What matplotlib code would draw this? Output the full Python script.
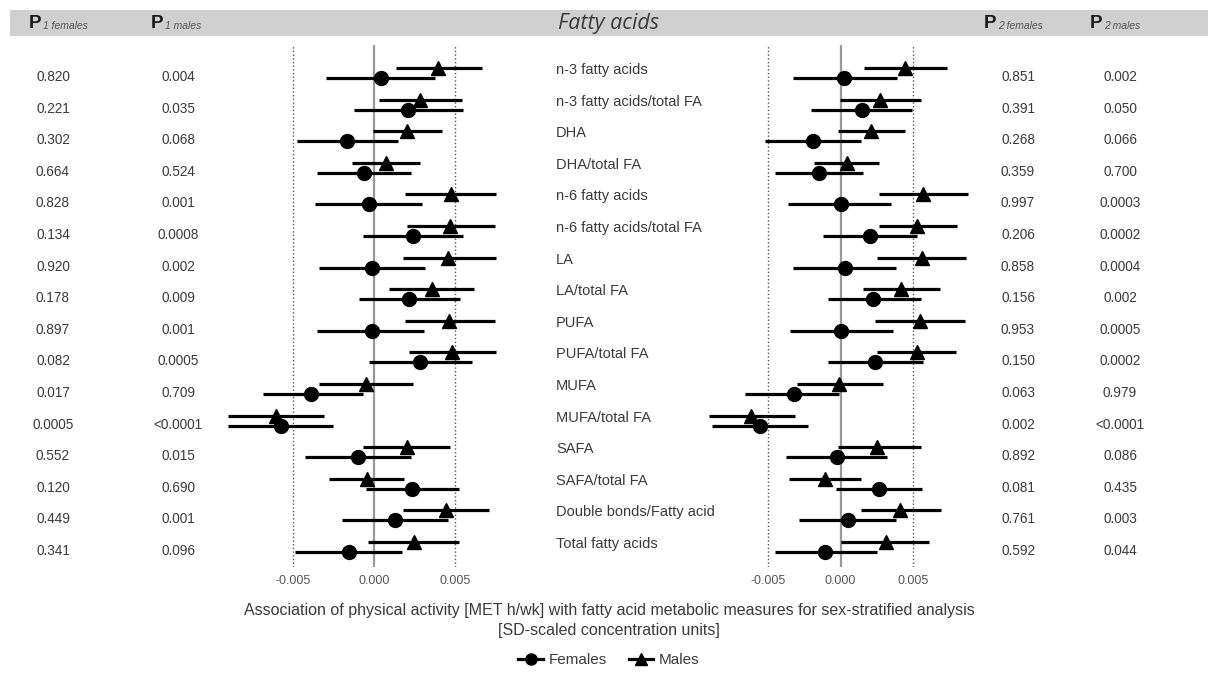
import numpy as np
import matplotlib
matplotlib.use('Agg')
import matplotlib.pyplot as plt
from matplotlib.lines import Line2D
from matplotlib.patches import Rectangle
import matplotlib.transforms as mtransforms

# === DATA (estimates and CIs in units of 1e-3) ===
labels = ["n-3 fatty acids", "n-3 fatty acids/total FA", "DHA", "DHA/total FA",
          "n-6 fatty acids", "n-6 fatty acids/total FA", "LA", "LA/total FA",
          "PUFA", "PUFA/total FA", "MUFA", "MUFA/total FA", "SAFA",
          "SAFA/total FA", "Double bonds/Fatty acid", "Total fatty acids"]

p1_females = ["0.820", "0.221", "0.302", "0.664", "0.828", "0.134", "0.920", "0.178",
              "0.897", "0.082", "0.017", "0.0005", "0.552", "0.120", "0.449", "0.341"]
p1_males = ["0.004", "0.035", "0.068", "0.524", "0.001", "0.0008", "0.002", "0.009",
            "0.001", "0.0005", "0.709", "<0.0001", "0.015", "0.690", "0.001", "0.096"]
p2_females = ["0.851", "0.391", "0.268", "0.359", "0.997", "0.206", "0.858", "0.156",
              "0.953", "0.150", "0.063", "0.002", "0.892", "0.081", "0.761", "0.592"]
p2_males = ["0.002", "0.050", "0.066", "0.700", "0.0003", "0.0002", "0.0004", "0.002",
            "0.0005", "0.0002", "0.979", "<0.0001", "0.086", "0.435", "0.003", "0.044"]

# left panel (model 1)
m1_f_est = [0.43, 2.11, -1.66, -0.61, -0.33, 2.38, -0.12, 2.15, -0.14, 2.85, -3.89, -5.74, -0.96, 2.36, 1.29, -1.56]
m1_f_lo = [-2.95, -1.21, -4.72, -3.50, -3.61, -0.66, -3.38, -0.92, -3.50, -0.31, -6.81, -9.00, -4.24, -0.51, -1.95, -4.86]
m1_f_hi = [3.79, 5.49, 1.50, 2.28, 2.99, 5.49, 3.16, 5.29, 3.08, 6.04, -0.70, -2.50, 2.26, 5.25, 4.53, 1.74]
m1_m_est = [3.96, 2.83, 2.05, 0.74, 4.76, 4.71, 4.59, 3.55, 4.63, 4.82, -0.51, -6.03, 2.05, -0.45, 4.41, 2.44]
m1_m_lo = [1.33, 0.31, -0.04, -1.37, 1.93, 2.05, 1.80, 0.94, 1.93, 2.17, -3.36, -9.00, -0.70, -2.79, 1.76, -0.35]
m1_m_hi = [6.66, 5.45, 4.18, 2.83, 7.54, 7.48, 7.50, 6.17, 7.48, 7.50, 2.38, -3.08, 4.67, 1.85, 7.07, 5.23]

# right panel (model 2)
m2_f_est = [0.25, 1.45, -1.91, -1.50, 0.00, 2.02, 0.32, 2.25, 0.05, 2.39, -3.22, -5.57, -0.28, 2.62, 0.48, -1.06]
m2_f_lo = [-3.31, -2.05, -5.22, -4.51, -3.61, -1.20, -3.27, -0.90, -3.50, -0.90, -6.58, -8.90, -3.77, -0.35, -2.90, -4.51]
m2_f_hi = [3.86, 4.92, 1.38, 1.56, 3.49, 5.29, 3.81, 5.54, 3.63, 5.70, -0.09, -2.23, 3.17, 5.59, 3.81, 2.52]
m2_m_est = [4.43, 2.71, 2.09, 0.41, 5.70, 5.29, 5.63, 4.14, 5.47, 5.24, -0.09, -6.21, 2.53, -1.10, 4.11, 3.12]
m2_m_lo = [1.61, -0.05, -0.21, -1.84, 2.62, 2.62, 2.48, 1.52, 2.39, 2.53, -3.03, -9.06, -0.16, -3.54, 1.38, 0.00]
m2_m_hi = [7.35, 5.56, 4.43, 2.62, 8.78, 8.04, 8.62, 6.85, 8.59, 7.93, 2.90, -3.17, 5.52, 1.42, 6.94, 6.11]

header_cols = [("1 females", 29), ("1 males", 151), ("2 females", 984), ("2 males", 1090)]

# === STYLE ===
plt.rcParams['font.family'] = ['Liberation Sans', 'DejaVu Sans']
TXT = '#3a3a3a'
W, H = 1208, 684

fig = plt.figure(figsize=(W / 100, H / 100), dpi=100)

# header band
fig.patches.append(Rectangle((10 / W, 1 - 36 / H), 1 - 10 / W, 26 / H,
                             transform=fig.transFigure, facecolor='#d0d0d0',
                             edgecolor='none', zorder=0))

n = len(labels)
ypos = -np.arange(n)
off = 0.16
ax_bottom, ax_top = 1 - 567 / H, 1 - 45 / H
ylim = (-(n - 1) - 20 / 31.57, 28 / 31.57)


def panel(left_px, right_px, xlim, f_est, f_lo, f_hi, m_est, m_lo, m_hi):
    ax = fig.add_axes([left_px / W, ax_bottom, (right_px - left_px) / W, ax_top - ax_bottom])
    ax.set_xlim(xlim)
    ax.set_ylim(ylim)
    ax.axvline(0, color='#999999', lw=1.6, zorder=1)
    for v in (-0.005, 0.005):
        ax.axvline(v, color='#555555', lw=1.0, ls=':', zorder=1)
    s = 1e-3
    ax.hlines(ypos + off, np.array(m_lo) * s, np.array(m_hi) * s, color='black', lw=2.3, zorder=2)
    ax.hlines(ypos - off, np.array(f_lo) * s, np.array(f_hi) * s, color='black', lw=2.3, zorder=2)
    ax.plot(np.array(m_est) * s, ypos + off, '^', color='black', ms=10, zorder=3)
    ax.plot(np.array(f_est) * s, ypos - off, 'o', color='black', ms=10, zorder=3)
    for sp in ax.spines.values():
        sp.set_visible(False)
    ax.set_yticks([])
    ax.set_xticks([-0.005, 0.0, 0.005])
    ax.set_xticklabels(['-0.005', '0.000', '0.005'])
    ax.tick_params(axis='x', length=0, labelsize=9, labelcolor='#555555', pad=6)
    ax.patch.set_alpha(0)
    return ax


axL = panel(227.7, 512, (-0.0090, 0.0085), m1_f_est, m1_f_lo, m1_f_hi, m1_m_est, m1_m_lo, m1_m_hi)
axR = panel(705.8, 971.2, (-0.0093, 0.0090), m2_f_est, m2_f_lo, m2_f_hi, m2_m_est, m2_m_lo, m2_m_hi)

# text columns
tr = mtransforms.blended_transform_factory(fig.transFigure, axL.transData)
dy_lab = 3 / 31.57
dy_p = 4 / 31.57
for i in range(n):
    y = ypos[i]
    fig.text(556 / W, y + dy_lab, labels[i], transform=tr, ha='left', va='center', fontsize=10.5, color=TXT)
    fig.text(53 / W, y - dy_p, p1_females[i], transform=tr, ha='center', va='center', fontsize=9.8, color=TXT)
    fig.text(178 / W, y - dy_p, p1_males[i], transform=tr, ha='center', va='center', fontsize=9.8, color=TXT)
    fig.text(1018 / W, y - dy_p, p2_females[i], transform=tr, ha='center', va='center', fontsize=9.8, color=TXT)
    fig.text(1120 / W, y - dy_p, p2_males[i], transform=tr, ha='center', va='center', fontsize=9.8, color=TXT)

# header
hy = 1 - 23 / H
for sub, xp in header_cols:
    fig.text(xp / W, hy, 'P', ha='left', va='center', fontsize=13.5, weight='bold', color='#1a1a1a')
    fig.text((xp + 14) / W, 1 - 26 / H, sub, ha='left', va='center', fontsize=7.5,
             style='italic', color='#555555')
fig.text(609 / W, hy, 'Fatty acids', ha='center', va='center', fontsize=15.5, style='italic',
         color=TXT, family=['Open Sans', 'DejaVu Sans'])

# axis title
fig.text(609 / W, 1 - 611 / H,
         'Association of physical activity [MET h/wk] with fatty acid metabolic measures for sex-stratified analysis',
         ha='center', va='center', fontsize=11.5, color=TXT)
fig.text(609 / W, 1 - 631 / H, '[SD-scaled concentration units]',
         ha='center', va='center', fontsize=11.5, color=TXT)

# legend
handles = [Line2D([], [], color='black', lw=2.3, marker='o', ms=8, label='Females'),
           Line2D([], [], color='black', lw=2.3, marker='^', ms=8, label='Males')]
fig.legend(handles=handles, loc='center', bbox_to_anchor=(609 / W, 1 - 660 / H), ncol=2,
           frameon=False, fontsize=11, handlelength=1.6, handletextpad=0.4, columnspacing=1.4,
           labelcolor=TXT)

fig.savefig('out.png', dpi=100, facecolor='white')
